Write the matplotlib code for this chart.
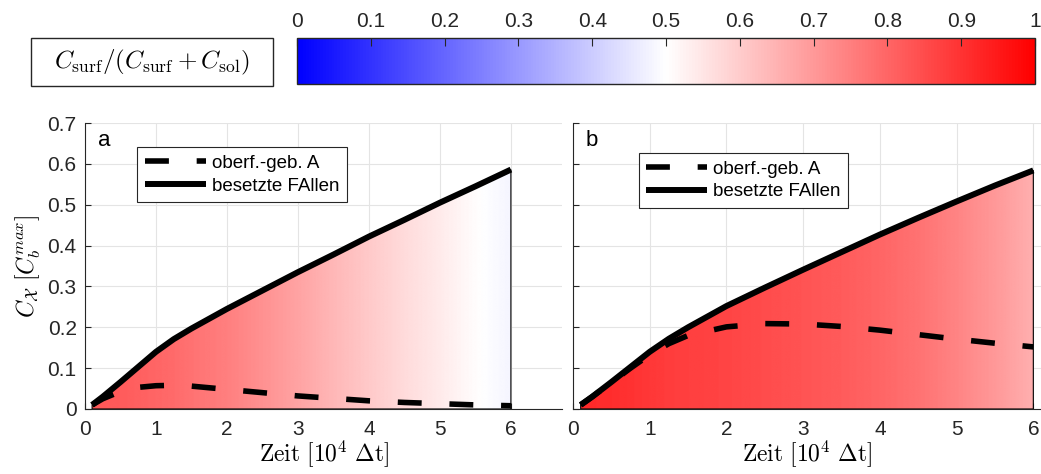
import numpy as np
import matplotlib
matplotlib.use("Agg")
import matplotlib.pyplot as plt
from matplotlib.colors import LinearSegmentedColormap, Normalize
from matplotlib.cm import ScalarMappable
from matplotlib.patches import Polygon, Rectangle
from matplotlib.ticker import FormatStrFormatter

plt.rcParams['font.family'] = ['Liberation Sans', 'DejaVu Sans']
plt.rcParams['mathtext.fontset'] = 'cm'

# time axis [10^4 dt]
t = [0.1, 0.25, 0.5, 0.75, 1.0, 1.25, 1.5, 2.0, 2.5, 3.0, 3.5, 4.0, 4.5, 5.0, 5.5, 6.0]

# panel a
traps_a = [0.010, 0.030, 0.066, 0.103, 0.140, 0.171, 0.197, 0.245, 0.290, 0.335,
           0.378, 0.422, 0.463, 0.505, 0.545, 0.586]
surf_a = [0.010, 0.025, 0.043, 0.053, 0.057, 0.058, 0.056, 0.048, 0.040, 0.032,
          0.026, 0.020, 0.016, 0.013, 0.010, 0.008]
ratio_a = [0.83, 0.825, 0.82, 0.81, 0.80, 0.79, 0.775, 0.75, 0.715, 0.68,
           0.64, 0.605, 0.57, 0.54, 0.505, 0.48]

# panel b
traps_b = [0.010, 0.030, 0.066, 0.103, 0.140, 0.172, 0.200, 0.252, 0.297, 0.341,
           0.384, 0.427, 0.468, 0.508, 0.547, 0.584]
surf_b = [0.010, 0.030, 0.065, 0.100, 0.133, 0.160, 0.180, 0.201, 0.209, 0.208,
          0.202, 0.193, 0.182, 0.171, 0.161, 0.152]
ratio_b = [0.92, 0.915, 0.91, 0.90, 0.89, 0.88, 0.875, 0.865, 0.85, 0.835,
           0.82, 0.80, 0.775, 0.74, 0.70, 0.655]

xticks = [0, 1, 2, 3, 4, 5, 6]
yticks = [0, 0.1, 0.2, 0.3, 0.4, 0.5, 0.6, 0.7]
cbar_ticks = [0, 0.1, 0.2, 0.3, 0.4, 0.5, 0.6, 0.7, 0.8, 0.9, 1.0]

cmap = LinearSegmentedColormap.from_list('bwr_lin', [(0, 0, 1), (1, 1, 1), (1, 0, 0)])
norm = Normalize(0, 1)
dark = '0.15'
TICK_FS = 15

W, H = 1041, 474
fig = plt.figure(figsize=(W / 100, H / 100), dpi=100)


def box(l, tp, r, b):
    return [l / W, 1 - b / H, (r - l) / W, (b - tp) / H]


def panel(ax, tt, traps, surf, ratio, xmax, letter, leg_anchor, show_y):
    tt = np.asarray(tt)
    traps = np.asarray(traps)
    # colour-shaded area under the trap curve
    xs = np.linspace(tt[0], tt[-1], 800)
    vals = np.interp(xs, tt, ratio)[None, :]
    im = ax.imshow(vals, extent=[tt[0], tt[-1], 0, traps.max()], origin='lower',
                   aspect='auto', cmap=cmap, norm=norm, interpolation='bilinear', zorder=1)
    verts = np.vstack([np.column_stack([tt, traps]), [[tt[-1], 0], [tt[0], 0]]])
    poly = Polygon(verts, closed=True, facecolor='none', edgecolor='black', lw=0.8, zorder=2)
    ax.add_patch(poly)
    im.set_clip_path(poly)

    l1, = ax.plot(tt, surf, color='black', lw=4, ls=(0, (4.3, 5.0)),
                  dash_capstyle='butt', zorder=3, label='oberf.-geb. A')
    l2, = ax.plot(tt, traps, color='black', lw=4.3, solid_capstyle='butt',
                  zorder=3, label='besetzte FAllen')

    ax.set_xlim(0, xmax)
    ax.set_ylim(0, 0.7)
    ax.set_xticks(xticks)
    ax.set_yticks(yticks)
    ax.yaxis.set_major_formatter(FormatStrFormatter('%g'))
    ax.grid(True, color='#e4e4e4', lw=0.8)
    ax.set_axisbelow(True)
    for s in ('top', 'right'):
        ax.spines[s].set_visible(False)
    for s in ('left', 'bottom'):
        ax.spines[s].set_color(dark)
        ax.spines[s].set_linewidth(0.8)
    ax.tick_params(direction='in', length=4, color=dark, labelcolor=dark, labelsize=TICK_FS)
    ax.tick_params(axis='x', pad=8)
    ax.tick_params(axis='y', pad=6)
    if not show_y:
        ax.tick_params(axis='y', labelleft=False)
    ax.set_xlabel(r'$\mathrm{Zeit}\ [10^4\ \Delta\mathrm{t}]$', fontsize=17, labelpad=-1)

    ax.text(0.027, 0.94, letter, transform=ax.transAxes, fontsize=16,
            ha='left', va='center', color='black')
    leg = ax.legend(handles=[l1, l2], loc='upper left', bbox_to_anchor=leg_anchor,
                    fontsize=13.5, handlelength=3.25, handletextpad=0.32,
                    labelspacing=0.3, borderpad=0.4, borderaxespad=0,
                    fancybox=False, framealpha=1, edgecolor=dark)
    leg.get_frame().set_linewidth(0.8)


ax_a = fig.add_axes(box(85, 123, 562, 409))
ax_b = fig.add_axes(box(573, 123, 1041, 409))

panel(ax_a, t, traps_a, surf_a, ratio_a, 6.72, 'a', (0.11, 0.915), True)
panel(ax_b, t, traps_b, surf_b, ratio_b, 6.10, 'b', (0.14, 0.895), False)

ax_a.set_ylabel(r'$C_{\mathcal{X}}\ [C_b^{max}]$', fontsize=17)
ax_a.yaxis.set_label_coords(-0.088, 0.5)

# colour bar
cax = fig.add_axes(box(297, 38, 1035, 84))
cb = fig.colorbar(ScalarMappable(norm=norm, cmap=cmap), cax=cax,
                  orientation='horizontal', ticks=cbar_ticks)
cax.xaxis.set_ticks_position('top')
cax.xaxis.set_label_position('top')
cax.xaxis.set_major_formatter(FormatStrFormatter('%g'))
cax.tick_params(direction='in', length=6, color=dark, labelcolor=dark,
                labelsize=TICK_FS, pad=5)
cb.outline.set_edgecolor(dark)
cb.outline.set_linewidth(1.0)

# colour bar title box
fig.patches.append(Rectangle((31 / W, 1 - 86 / H), (273 - 31) / W, (86 - 38) / H,
                             transform=fig.transFigure, facecolor='white',
                             edgecolor=dark, lw=1.0))
fig.text(152 / W, 1 - 62 / H,
         r'$C_{\mathrm{surf}}/(C_{\mathrm{surf}} + C_{\mathrm{sol}})$',
         fontsize=18, ha='center', va='center')

fig.savefig('out.png', dpi=100)
